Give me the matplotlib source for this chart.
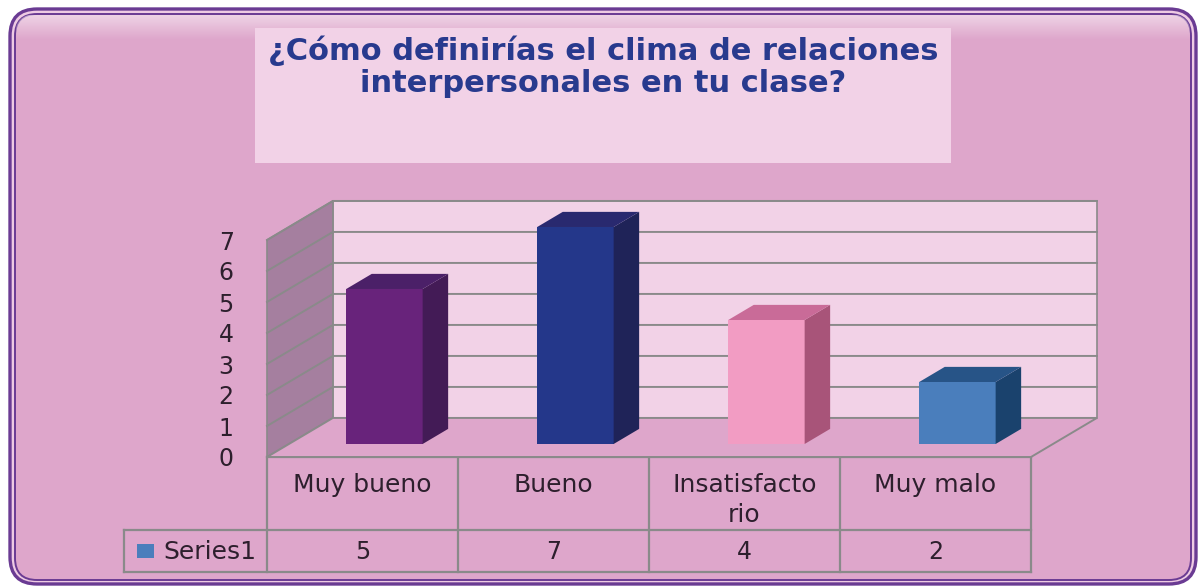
import numpy as np
import matplotlib.pyplot as plt
from matplotlib.patches import FancyBboxPatch, Polygon, Rectangle
from matplotlib.transforms import blended_transform_factory

# chart data
title_lines = ['¿Cómo definirías el clima de relaciones', 'interpersonales en tu clase?']
categories = ['Muy bueno', 'Bueno', 'Insatisfacto\nrio', 'Muy malo']
values = [5, 7, 4, 2]
series_name = 'Series1'
y_ticks = [0, 1, 2, 3, 4, 5, 6, 7]

# colours (front, side, top) per bar
front_cols = ['#68237b', '#24378a', '#f29cc3', '#4a7ebc']
side_cols = ['#431b56', '#1f2358', '#a85479', '#1a426d']
top_cols = ['#4b2068', '#29296f', '#c96b98', '#275487']
bg_col = '#dea6cb'
wall_col = '#f2d2e7'
side_wall_col = '#a57f9f'
grid_col = '#8a8a8a'
frame_col = '#6a3b93'
text_col = '#2d1f2d'
title_col = '#283a8e'

# 3D look: depth of the floor in data units and where the bars sit in it
DEPTH_X = 0.345
DEPTH_V = 1.26
D0, D1 = 0.333, 0.72
BAR_W = 0.4

W, H = 1202, 587
fig = plt.figure(figsize=(W / 100, H / 100), dpi=100)
fig.patch.set_facecolor('white')

# background canvas in pixels
bg = fig.add_axes([0, 0, 1, 1])
bg.axis('off')

outer = FancyBboxPatch((10, 9), 1186, 575, boxstyle='round,pad=0,rounding_size=27',
                       fc='#eecbe3', ec=frame_col, lw=2.4)
bg.add_patch(outer)
inner = FancyBboxPatch((15, 14), 1176, 566, boxstyle='round,pad=0,rounding_size=22',
                       fc=bg_col, ec=frame_col, lw=1.4)
bg.add_patch(inner)

# glossy highlight along the top
grad = np.ones((40, 1, 4))
grad[:, 0, 3] = np.linspace(0.5, 0.0, 40)
gl = bg.imshow(grad, extent=(16, 1190, 40, 15), aspect='auto', origin='upper', zorder=1)
gl.set_clip_path(inner)

bg.set_xlim(0, W)
bg.set_ylim(H, 0)

# title box
bg.add_patch(Rectangle((255, 28), 696, 135, fc=wall_col, ec='none', zorder=2))
for j, line in enumerate(title_lines):
    bg.text(603, 60 + 32 * j, line, ha='center', va='baseline', fontsize=22,
            fontweight='bold', color=title_col, family='DejaVu Sans', zorder=3)

# plot axes = front plane of the 3D box
ax = fig.add_axes([267 / W, (H - 457) / H, (1031 - 267) / W, 217 / H])
ax.set_xlim(0, len(categories))
ax.set_ylim(0, 7)
ax.patch.set_visible(False)
for s in ax.spines.values():
    s.set_visible(False)
ax.set_xticks([])
ax.set_yticks(y_ticks)
ax.set_yticklabels([str(t) for t in y_ticks])
ax.tick_params(axis='y', length=0, pad=24, labelsize=17, labelcolor=text_col)

n = len(categories)
top_v = y_ticks[-1]

# back wall, left wall, floor
ax.add_patch(Rectangle((DEPTH_X, DEPTH_V), n, top_v, fc=wall_col, ec=grid_col,
                       lw=1.2, clip_on=False, zorder=1))
ax.add_patch(Polygon([(0, 0), (DEPTH_X, DEPTH_V), (DEPTH_X, top_v + DEPTH_V), (0, top_v)],
                     closed=True, fc=side_wall_col, ec=grid_col, lw=1.2, clip_on=False, zorder=1))
ax.add_patch(Polygon([(0, 0), (n, 0), (n + DEPTH_X, DEPTH_V), (DEPTH_X, DEPTH_V)],
                     closed=True, fc=bg_col, ec=grid_col, lw=1.4, clip_on=False, zorder=1))
for k in y_ticks[1:]:
    ax.plot([0, DEPTH_X, n + DEPTH_X], [k, k + DEPTH_V, k + DEPTH_V],
            color=grid_col, lw=1.4, clip_on=False, zorder=2)

# bars
xc = np.arange(n) + 0.5
base = D0 * DEPTH_V
dx = (D1 - D0) * DEPTH_X
dv = (D1 - D0) * DEPTH_V
for i, v in enumerate(values):
    xl = xc[i] - BAR_W / 2 + D0 * DEPTH_X
    xr = xl + BAR_W
    ax.bar(xl, v, width=BAR_W, bottom=base, align='edge', color=front_cols[i],
           lw=0, clip_on=False, zorder=4)
    ax.add_patch(Polygon([(xr, base), (xr + dx, base + dv), (xr + dx, base + v + dv), (xr, base + v)],
                         closed=True, fc=side_cols[i], ec='none', clip_on=False, zorder=4))
    ax.add_patch(Polygon([(xl, base + v), (xr, base + v), (xr + dx, base + v + dv), (xl + dx, base + v + dv)],
                         closed=True, fc=top_cols[i], ec='none', clip_on=False, zorder=4))

# data table under the plot (x in category units, y in pixels)
tr = blended_transform_factory(ax.transData, bg.transData)
leg_x = -0.75
row0, row1, row2 = 457, 530, 572
lk = dict(color=grid_col, lw=1.6, transform=tr, clip_on=False, zorder=5)
bg.plot([0, n], [row0, row0], **lk)
bg.plot([leg_x, n], [row1, row1], **lk)
bg.plot([leg_x, n], [row2, row2], **lk)
for i in range(n + 1):
    bg.plot([i, i], [row0, row2], **lk)
bg.plot([leg_x, leg_x], [row1, row2], **lk)

for i, cat in enumerate(categories):
    for j, part in enumerate(cat.split('\n')):
        bg.text(xc[i], 492 + 30 * j, part, transform=tr, ha='center', va='baseline',
                fontsize=18, color=text_col, zorder=6)
    bg.text(xc[i], 559, str(values[i]), transform=tr, ha='center', va='baseline',
            fontsize=17, color=text_col, zorder=6)

bg.add_patch(Rectangle((-0.68, 544), 0.089, 14, transform=tr, fc=front_cols[3], ec='none', zorder=6))
bg.text(-0.545, 559, series_name, transform=tr, ha='left', va='baseline',
        fontsize=18, color=text_col, zorder=6)

fig.savefig('out.png', dpi=100)
